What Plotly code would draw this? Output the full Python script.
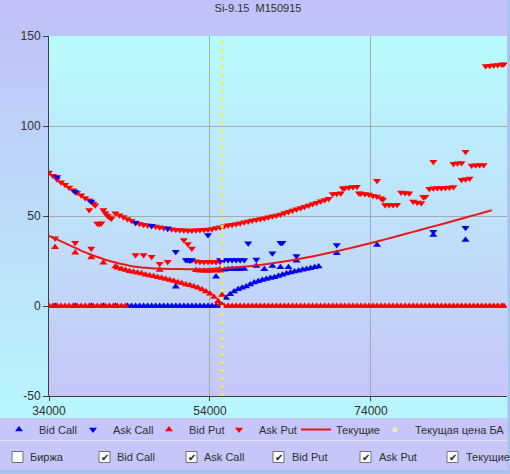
import plotly.graph_objects as go

# ---------------- data ----------------
TITLE = "Si-9.15\u00a0\u00a0M150915"
X_TICKS = [34000, 54000, 74000]
X_TICK_TEXT = ["34000", "54000", "74000"]
Y_TICKS = [-50, 0, 50, 100, 150]
Y_TICK_TEXT = ["-50", "0", "50", "100", "150"]
X_RANGE = [34000, 90900]
Y_RANGE = [-50, 150]
UNDERLYING_PRICE = 55500  # Текущая цена БА

LEGEND_NAMES = ["Bid Call", "Ask Call", "Bid Put", "Ask Put", "Текущие", "Текущая цена БА"]
CHECKBOX_LABELS = ["Биржа", "Bid Call", "Ask Call", "Bid Put", "Ask Put", "Текущие"]
CHECKBOX_STATES = [False, True, True, True, True, True]

bid_call = [
    (34750, 0), (37250, 0), (39250, 0), (40750, 0), (42250, 0),
    (43750, 0), (44250, 0), (44750, 0), (45250, 0), (45750, 0), (46250, 0), (46750, 0), (47250, 0),
    (47750, 0), (48250, 0), (48750, 0), (49250, 0), (49750, 0), (50250, 0), (50750, 0), (51250, 0),
    (51750, 0), (52250, 0), (52750, 0), (53250, 0), (53750, 0), (54250, 0), (54750, 0), (55250, 0),
    (49750, 10.7), (54750, 16.3),
    (55250, 20.4), (55750, 20.2), (56250, 20.4), (56750, 20.6), (57250, 20.4), (57750, 20.4), (58250, 20.6),
    (55500, 0.5), (56000, 4.5), (56500, 6.5), (57000, 8.0), (57500, 9.3), (58000, 10.2), (58500, 10.9),
    (59000, 12.0), (59500, 13.0), (60000, 13.8), (60500, 14.4), (61000, 15.0), (61500, 15.5), (62000, 16.0),
    (62500, 16.6), (63000, 17.3), (63500, 18.0), (64000, 18.6), (64500, 19.1), (65000, 19.6), (65500, 20.1),
    (66000, 20.6), (66500, 21.0), (67000, 21.5), (67500, 22.0),
    (59750, 22.2), (60750, 20.4), (61750, 22.2), (62750, 21.5), (63750, 21.5), (64750, 25.2),
    (69750, 29.3), (74750, 33.9), (81750, 39.4), (85750, 36.7),
]

ask_call = [
    (35000, 71.6), (37250, 63.5), (39250, 58.0), (44750, 46.3), (46750, 44.6), (48750, 43.0),
    (49750, 30.2), (51000, 25.5), (51250, 25.5), (51500, 25.3), (51750, 25.5), (53750, 39.4),
    (55250, 25.5), (55750, 25.5), (56250, 25.6), (56750, 25.5), (57250, 25.6), (57750, 25.5), (58250, 25.5),
    (58750, 34.8), (59750, 25.9), (61750, 29.3), (62750, 35.2), (63000, 35.2), (64750, 27.8),
    (69750, 33.9), (81750, 41.3), (85750, 43.5),
]

bid_put = [
    (34000, 0), (34500, 0), (35000, 0), (35500, 0), (36000, 0), (36500, 0), (37000, 0), (37500, 0),
    (38000, 0), (38500, 0), (39000, 0), (39500, 0), (40000, 0), (40500, 0), (41000, 0), (41500, 0),
    (42000, 0), (42500, 0), (43000, 0), (43500, 0),
    (34750, 32.6), (37250, 29.6), (39250, 27.0), (40750, 24.0), (42250, 21.9),
    (42500, 21.3), (43000, 20.6), (43500, 20.0), (44000, 19.3), (44500, 18.9), (45000, 18.5), (45500, 18.0),
    (46000, 17.4), (46500, 16.9), (47000, 16.5), (47500, 16.0), (48000, 15.5), (48500, 15.0), (49000, 14.5),
    (49500, 13.9), (50000, 13.2), (50500, 12.6), (51000, 12.0), (51500, 11.5), (52000, 10.8), (52500, 10.1),
    (53000, 9.2), (53500, 8.1), (54000, 6.8), (54500, 5.0), (55000, 2.7), (55250, 1.1),
    (47750, 20.0), (52250, 19.8), (52750, 19.6), (53250, 19.6), (53750, 19.5), (54250, 19.6), (54750, 19.7),
    (55250, 19.6), (55500, 6.1),
    (55750, 0), (56250, 0), (56750, 0), (57250, 0), (57750, 0), (58250, 0), (58750, 0), (59250, 0),
    (59750, 0), (60250, 0), (60750, 0), (61250, 0), (61750, 0), (62250, 0), (62750, 0), (63250, 0),
    (63750, 0), (64250, 0), (64750, 0), (65250, 0), (65750, 0), (66250, 0), (66750, 0), (67250, 0),
    (67750, 0), (68250, 0), (68750, 0), (69250, 0), (69750, 0), (70250, 0), (70750, 0), (71250, 0),
    (71750, 0), (72250, 0), (72750, 0), (73250, 0), (73750, 0), (74250, 0), (74750, 0), (75250, 0),
    (75750, 0), (76250, 0), (76750, 0), (77250, 0), (77750, 0), (78250, 0), (78750, 0), (79250, 0),
    (79750, 0), (80250, 0), (80750, 0), (81250, 0), (81750, 0), (82250, 0), (82750, 0), (83250, 0),
    (83750, 0), (84250, 0), (84750, 0), (85250, 0), (85750, 0), (86250, 0), (86750, 0), (87250, 0),
    (87750, 0), (88250, 0), (88750, 0), (89250, 0), (89750, 0), (90250, 0), (90500, 0),
]

ask_put = [
    (34750, 37.6), (37250, 35.2), (39250, 32.0), (44750, 28.3), (45750, 28.3), (46750, 27.4),
    (47750, 23.5), (48750, 24.6), (50750, 36.7), (51250, 34.4), (51750, 32.0),
    (52250, 24.8), (52750, 24.6), (53250, 24.5), (53750, 24.6), (54250, 24.6), (54750, 24.5), (55250, 24.6),
    (34000, 74.1), (34500, 72.3), (35000, 70.4), (35500, 68.8), (36000, 67.3), (36500, 65.8), (37000, 64.3),
    (37500, 62.9), (38000, 61.5), (38500, 60.0), (39000, 58.8), (39500, 57.0), (39750, 56.0),
    (39000, 53.3), (40000, 45.9), (40250, 45.6), (40500, 46.0),
    (40750, 53.3), (41000, 51.6), (41250, 50.3), (41500, 49.3), (41750, 48.6),
    (42250, 51.5), (42750, 50.4), (43250, 49.4), (43750, 48.4), (44250, 47.3), (44750, 46.4), (45250, 45.7),
    (45750, 45.2), (46250, 44.8), (46750, 44.4), (47250, 44.1), (47750, 43.8), (48250, 43.4), (48750, 43.0),
    (49250, 42.7), (49750, 42.4), (50250, 42.2), (50750, 42.1), (51250, 42.0), (51750, 42.0), (52250, 42.1),
    (52750, 42.2), (53250, 42.3), (53750, 42.5), (54250, 42.8), (54750, 43.3), (55250, 43.8), (55750, 44.3),
    (56250, 44.8), (56750, 45.2), (57250, 45.6), (57750, 46.0), (58250, 46.5), (58750, 47.0), (59250, 47.5),
    (59750, 47.9), (60250, 48.3), (60750, 48.8), (61250, 49.3), (61750, 49.8), (62250, 50.3), (62750, 50.9),
    (63250, 51.6), (63750, 52.3), (64250, 53.0), (64750, 53.7), (65250, 54.4), (65750, 55.1), (66250, 55.8),
    (66750, 56.6), (67250, 57.4), (67750, 58.2), (68250, 58.9), (68750, 59.6),
    (69250, 62.2), (69750, 62.4), (70250, 62.6), (70500, 65.4), (70750, 65.6), (71250, 65.9), (71750, 66.1),
    (72250, 66.3), (72500, 62.6), (72750, 62.5), (73250, 62.2), (73750, 61.9), (74250, 61.2), (74750, 60.8),
    (74750, 69.6), (75250, 59.8), (75500, 59.2), (75750, 56.1), (76250, 56.1), (76750, 56.1), (77250, 56.2),
    (77750, 63.0), (78250, 62.8), (78750, 62.6), (79250, 58.0), (79750, 57.5), (80250, 57.2), (80500, 60.6),
    (80750, 60.7), (81250, 65.2), (81750, 65.4), (82250, 65.5), (82750, 65.6), (83250, 65.7), (83750, 65.9),
    (84250, 66.1), (81750, 80.2), (84250, 79.0), (84750, 79.3), (85250, 79.5), (85750, 85.7),
    (85250, 70.2), (85750, 70.4), (86250, 70.8), (86500, 78.0), (87000, 78.2), (87500, 78.3), (88000, 78.4),
    (88250, 133.3), (88750, 133.5), (89250, 133.7), (89750, 133.9), (90250, 134.1), (90500, 134.3),
]

current_x = [34000, 35000, 36000, 37000, 38000, 39000, 40000, 41000, 42000, 43000, 44000, 45000,
             46000, 47000, 48000, 50000, 52000, 54000, 56000, 58000, 60000, 62000, 64000, 66000,
             68000, 70000, 72000, 74000, 76000, 78000, 80000, 82000, 84000, 86000, 88000, 89000]
current_y = [39.0, 37.0, 34.9, 32.8, 30.8, 28.9, 27.2, 25.7, 24.4, 23.3, 22.4, 21.7,
             21.2, 20.9, 20.7, 20.5, 20.4, 20.6, 21.1, 21.8, 22.7, 23.9, 25.3, 26.9,
             28.7, 30.7, 32.8, 35.0, 37.3, 39.7, 42.1, 44.5, 46.9, 49.4, 51.9, 53.2]

# ---------------- style / layout ----------------
W, H = 510, 474
ML, MR, MT, MB = 49, 3, 36, 78
PW = W - ML - MR
PH = H - MT - MB
FONT = "Liberation Sans"
TXT = "#303030"
BLUE = "#0000F0"
RED = "#FF0000"


def px_x(px):
    return (px - ML) / PW


def px_y(py):
    return (H - MB - py) / PH


def mix(c0, c1, t):
    return "rgb(%d,%d,%d)" % tuple(round(a + (b - a) * t) for a, b in zip(c0, c1))


def rect(x0, y0, x1, y1, fill, line_color=None, line_width=0):
    return dict(type="rect", xref="paper", yref="paper", layer="below",
                x0=px_x(x0), x1=px_x(x1), y0=px_y(y1), y1=px_y(y0),
                fillcolor=fill, line=dict(color=line_color or fill, width=line_width))


shapes = []
# outer background gradient: lavender top -> cyan bottom
N = 42
top_c, bot_c = (192, 192, 248), (184, 246, 252)
for i in range(N):
    y0 = 418 * i / N
    y1 = 418 * (i + 1) / N + 0.6
    shapes.append(rect(0, y0, W, y1, mix(top_c, bot_c, (i + 0.5) / N)))
# plot area gradient: cyan top -> lavender bottom
N2 = 45
ptop, pbot = (184, 252, 252), (198, 198, 248)
for i in range(N2):
    y0 = MT + PH * i / N2
    y1 = MT + PH * (i + 1) / N2 + 0.6
    shapes.append(rect(ML, y0, W - MR, y1, mix(ptop, pbot, (i + 0.5) / N2)))
# legend / checkbox strips
shapes.append(rect(0, 418, W, 470, "#C6C6F8"))
shapes.append(dict(type="line", xref="paper", yref="paper", layer="below",
                   x0=px_x(0), x1=px_x(W), y0=px_y(440.5), y1=px_y(440.5),
                   line=dict(color="#E2E2FC", width=1)))
shapes.append(rect(0, 470, W, H, "#A8C4EE"))
shapes.append(rect(507.5, 0, W, H, "#A8C4EE"))

annotations = []
box_left = [12, 99, 186, 273, 360, 447]
text_left = [28, 115, 202, 290, 377, 464]
cy = 457
for bl, tl, lab, st in zip(box_left, text_left, CHECKBOX_LABELS, CHECKBOX_STATES):
    shapes.append(rect(bl, cy - 5.5, bl + 11, cy + 5.5, "#FFFFFF", "#707070", 1))
    if st:
        annotations.append(dict(x=px_x(bl + 5.5), y=px_y(cy), xref="paper", yref="paper",
                                text="\u2714", showarrow=False, xanchor="center", yanchor="middle",
                                font=dict(family="DejaVu Sans", size=10, color="#202020")))
    annotations.append(dict(x=px_x(tl), y=px_y(cy), xref="paper", yref="paper",
                            text=lab, showarrow=False, xanchor="left", yanchor="middle",
                            font=dict(family=FONT, size=11, color=TXT)))

fig = go.Figure()

# one legend box per entry so each entry sits exactly where the reference has it
LEGEND_IDS = ["legend", "legend2", "legend3", "legend4", "legend5", "legend6"]
LEGEND_LEFT_PX = [-1, 73, 149, 219, 296, 375]


def add_markers(points, idx, symbol, color):
    fig.add_trace(go.Scatter(
        x=[p[0] for p in points], y=[p[1] for p in points], mode="markers",
        name=LEGEND_NAMES[idx], legend=LEGEND_IDS[idx],
        marker=dict(symbol=symbol, size=7, color=color, line=dict(width=0))))


add_markers(bid_call, 0, "triangle-up", BLUE)
add_markers(ask_put, 3, "triangle-down", RED)
add_markers(bid_put, 2, "triangle-up", RED)
add_markers(ask_call, 1, "triangle-down", BLUE)

fig.add_trace(go.Scatter(x=current_x, y=current_y, mode="lines", name=LEGEND_NAMES[4],
                         legend=LEGEND_IDS[4],
                         line=dict(color="#E81818", width=2, shape="spline", smoothing=0.6)))
fig.add_trace(go.Scatter(x=[UNDERLYING_PRICE, UNDERLYING_PRICE], y=Y_RANGE, mode="lines",
                         showlegend=False,
                         line=dict(color="#EEEE55", width=3, dash="3px,5px")))
fig.add_trace(go.Scatter(x=[None], y=[None], mode="markers", name=LEGEND_NAMES[5],
                         legend=LEGEND_IDS[5],
                         marker=dict(symbol="circle", size=5, color="#ECECB0")))

legend_font = dict(family=FONT, size=11, color=TXT)
legends = {}
for lid, lx in zip(LEGEND_IDS, LEGEND_LEFT_PX):
    legends[lid] = dict(orientation="h", x=px_x(lx), y=px_y(415), xanchor="left", yanchor="top",
                        bgcolor="rgba(0,0,0,0)", borderwidth=0, itemwidth=30, font=legend_font)

fig.update_layout(
    width=W, height=H,
    margin=dict(l=ML, r=MR, t=MT, b=MB, pad=0, autoexpand=False),
    paper_bgcolor="#C0C0F8",
    plot_bgcolor="rgba(0,0,0,0)",
    title=dict(text=TITLE, x=258 / W, xanchor="center", y=1 - 8 / H, yanchor="middle",
               yref="container", font=dict(family=FONT, size=11, color=TXT)),
    font=dict(family=FONT, size=11, color=TXT),
    showlegend=True,
    xaxis=dict(range=X_RANGE, tickvals=X_TICKS, ticktext=X_TICK_TEXT, showgrid=True,
               gridcolor="#A4AAB4", gridwidth=1, zeroline=False, showline=True,
               linecolor="#404040", linewidth=1, ticks="outside", ticklen=4, tickcolor="#404040",
               tickfont=dict(family=FONT, size=12, color=TXT)),
    yaxis=dict(range=Y_RANGE, tickvals=Y_TICKS, ticktext=Y_TICK_TEXT, showgrid=True,
               gridcolor="#A4AAB4", gridwidth=1, zeroline=False, showline=True,
               linecolor="#404040", linewidth=1, ticks="outside", ticklen=5, tickcolor="#404040",
               tickfont=dict(family=FONT, size=12, color=TXT)),
    shapes=shapes,
    annotations=annotations,
    hovermode=False,
    **legends,
)

fig.write_html("out.html",
               config={"displayModeBar": False},
               post_script="document.body.style.margin='0';document.body.style.overflow='hidden';")
